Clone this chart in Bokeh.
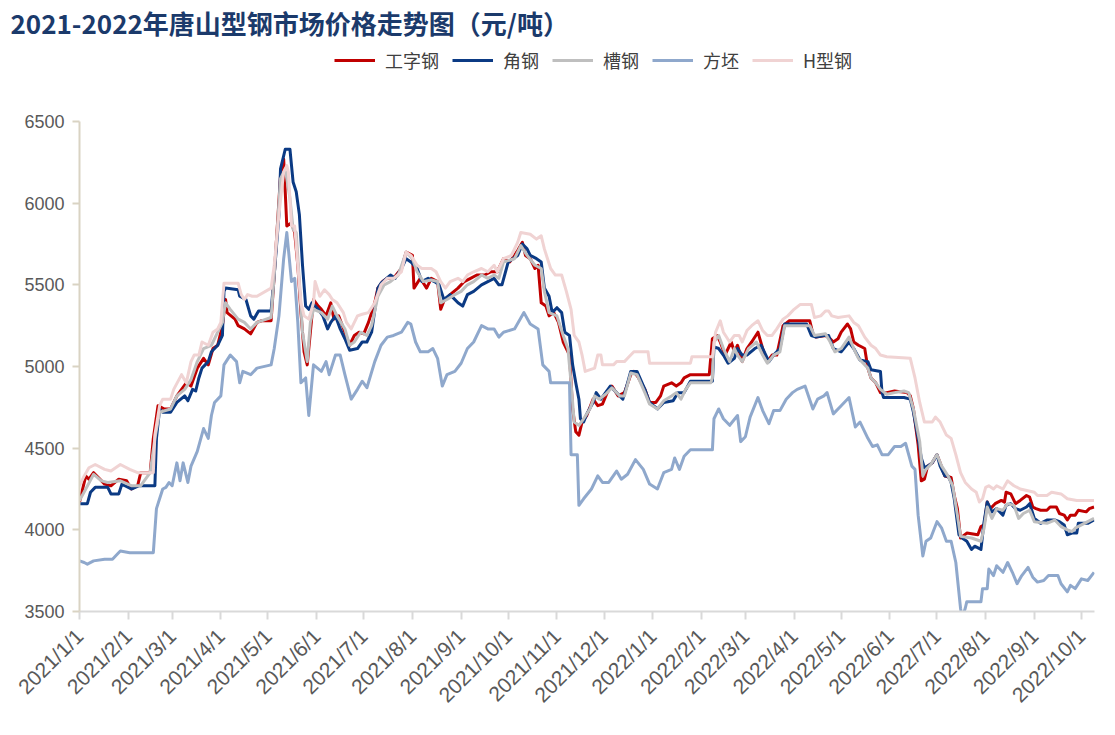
import pandas as pd
from bokeh.plotting import figure
from bokeh.models import (Range1d, FixedTicker, CustomJSTickFormatter, Legend,
                          LegendItem)
from bokeh.embed import file_html
from bokeh.resources import INLINE
import math

# ---------------- data ----------------
title_text = "2021-2022年唐山型钢市场价格走势图（元/吨）"
base_date = "2021-01-01"          # day offsets below count from this date
tick_labels = ["2021/1/1", "2021/2/1", "2021/3/1", "2021/4/1", "2021/5/1", "2021/6/1",
               "2021/7/1", "2021/8/1", "2021/9/1", "2021/10/1", "2021/11/1", "2021/12/1",
               "2022/1/1", "2022/2/1", "2022/3/1", "2022/4/1", "2022/5/1", "2022/6/1",
               "2022/7/1", "2022/8/1", "2022/9/1", "2022/10/1"]
y_ticks = [3500, 4000, 4500, 5000, 5500, 6000, 6500]
last_day = 646.3

names = ["工字钢", "角钢", "槽钢", "方坯", "H型钢"]

gzg_day = [0, 4, 6, 9, 12, 16, 20, 25, 30, 33, 37, 39, 45, 47, 50, 54, 58, 62, 68, 71, 75, 79, 82, 85, 88, 91, 93, 94, 99, 101,
           105, 109, 113, 116, 122, 124, 128, 130, 131, 132, 135, 137, 139, 141, 143, 145, 147, 149, 152, 154, 157, 160, 162, 165, 169,
           172, 175, 178, 181, 184, 188, 190, 193, 196, 200, 205, 208, 212, 213, 217, 221, 224, 228, 230, 232, 236, 241, 245, 249, 253,
           258, 262, 266, 270, 274, 277, 279, 282, 284, 287, 290, 292, 294, 297, 299, 302, 305, 308, 310, 312, 314, 316, 318, 320, 323,
           327, 330, 333, 336, 339, 343, 347, 351, 353, 356, 360, 363, 367, 370, 372, 377, 380, 383, 385, 389, 401, 403, 406, 408, 411,
           415, 417, 419, 422, 425, 428, 432, 435, 438, 441, 444, 448, 452, 465, 467, 469, 475, 478, 480, 483, 485, 489, 491, 493, 496,
           500, 502, 504, 507, 510, 514, 519, 527, 529, 531, 534, 536, 538, 540, 543, 546, 548, 551, 555, 557, 559, 561, 565, 572, 574,
           576, 578, 580, 583, 587, 589, 590, 593, 596, 599, 603, 605, 607, 609, 612, 616, 618, 622, 624, 627, 629, 631, 634, 636, 641,
           643, 646]
gzg_val = [4170, 4330, 4310, 4350, 4320, 4280, 4270, 4310, 4300, 4250, 4270, 4350, 4350, 4560, 4760, 4740, 4740, 4820, 4900, 4880,
           4990, 5050, 5010, 5110, 5130, 5250, 5410, 5330, 5290, 5250, 5230, 5200, 5270, 5280, 5280, 5560, 6170, 6270, 6070, 5860,
           5880, 5820, 5620, 5330, 5090, 5010, 5210, 5410, 5370, 5350, 5310, 5390, 5290, 5310, 5210, 5130, 5190, 5210, 5200, 5270,
           5390, 5480, 5520, 5540, 5540, 5600, 5700, 5680, 5480, 5540, 5480, 5540, 5520, 5350, 5400, 5440, 5480, 5520, 5540, 5560,
           5560, 5580, 5580, 5660, 5640, 5680, 5710, 5760, 5680, 5660, 5600, 5620, 5390, 5370, 5310, 5330, 5270, 5150, 5110, 5070,
           4740, 4600, 4580, 4660, 4700, 4800, 4760, 4770, 4840, 4880, 4820, 4840, 4950, 4970, 4930, 4860, 4780, 4780, 4820, 4880,
           4900, 4880, 4900, 4930, 4950, 4950, 5170, 5190, 5150, 5070, 5150, 5090, 5130, 5030, 5110, 5150, 5210, 5110, 5030, 5070,
           5070, 5250, 5280, 5280, 5200, 5180, 5190, 5170, 5150, 5170, 5210, 5260, 5230, 5150, 5130, 5110, 4990, 4930, 4900, 4840,
           4840, 4850, 4840, 4820, 4740, 4520, 4300, 4310, 4390, 4410, 4460, 4410, 4330, 4320, 4210, 4130, 3950, 3980, 3970, 4020,
           4030, 4170, 4130, 4160, 4180, 4170, 4230, 4220, 4160, 4180, 4210, 4200, 4140, 4130, 4120, 4120, 4140, 4140, 4100, 4090,
           4060, 4090, 4090, 4120, 4110, 4130, 4140]

jg_day = [0, 5, 7, 10, 18, 20, 25, 27, 33, 38, 48, 49, 51, 53, 58, 62, 67, 69, 72, 74, 76, 78, 82, 84, 88, 91, 92, 93, 101, 102,
          106, 109, 111, 114, 122, 124, 127, 128, 131, 134, 136, 138, 140, 142, 144, 146, 148, 152, 155, 158, 160, 163, 166, 169, 172,
          177, 180, 183, 186, 190, 192, 198, 201, 205, 208, 211, 215, 218, 222, 226, 229, 232, 236, 241, 244, 247, 251, 256, 260, 264,
          267, 269, 273, 279, 282, 285, 287, 291, 294, 296, 299, 301, 304, 307, 309, 312, 314, 316, 318, 319, 321, 323, 327, 329, 332,
          335, 338, 342, 346, 349, 351, 355, 360, 363, 368, 372, 378, 381, 385, 389, 403, 404, 407, 410, 413, 417, 419, 422, 425, 430,
          434, 437, 439, 442, 446, 449, 463, 466, 469, 474, 477, 480, 485, 490, 493, 497, 502, 504, 510, 511, 512, 525, 529, 531, 534,
          536, 538, 540, 543, 546, 548, 551, 553, 555, 557, 560, 562, 565, 568, 570, 574, 576, 578, 581, 584, 588, 590, 593, 596, 599,
          603, 605, 608, 612, 616, 621, 624, 627, 629, 632, 635, 636, 642, 646]
jg_val = [4160, 4160, 4230, 4260, 4260, 4220, 4220, 4280, 4250, 4270, 4270, 4560, 4740, 4720, 4720, 4780, 4820, 4790, 4860, 4850,
          4930, 4990, 5030, 5090, 5130, 5190, 5460, 5480, 5470, 5430, 5410, 5310, 5290, 5340, 5340, 5560, 5930, 6210, 6330, 6330,
          6130, 6070, 5930, 5620, 5370, 5350, 5390, 5350, 5310, 5230, 5270, 5310, 5230, 5170, 5100, 5110, 5150, 5150, 5210, 5480,
          5510, 5560, 5540, 5600, 5660, 5640, 5600, 5520, 5540, 5520, 5500, 5410, 5440, 5390, 5370, 5440, 5460, 5500, 5520, 5540,
          5500, 5500, 5640, 5680, 5750, 5720, 5680, 5660, 5640, 5480, 5430, 5330, 5360, 5330, 5210, 5190, 5010, 4900, 4800, 4680,
          4660, 4710, 4780, 4840, 4800, 4840, 4880, 4840, 4800, 4900, 4970, 4970, 4860, 4780, 4740, 4780, 4790, 4840, 4840, 4910,
          4910, 5120, 5110, 5070, 5020, 5050, 5110, 5070, 5070, 5110, 5130, 5070, 5030, 5070, 5110, 5260, 5260, 5190, 5180, 5190,
          5190, 5110, 5090, 5150, 5110, 5040, 5030, 4980, 4970, 4840, 4810, 4810, 4800, 4720, 4560, 4440, 4380, 4390, 4410, 4460,
          4390, 4330, 4330, 4290, 4190, 3970, 3950, 3930, 3880, 3900, 3880, 4050, 4170, 4110, 4130, 4090, 4150, 4160, 4130, 4120,
          4140, 4160, 4070, 4040, 4060, 4060, 4050, 4030, 3970, 3980, 3980, 4040, 4040, 4060]

cg_day = [0, 4, 9, 14, 18, 26, 33, 39, 45, 48, 51, 58, 62, 67, 71, 75, 79, 84, 88, 91, 93, 96, 101, 105, 109, 113, 122, 124, 128,
          131, 134, 136, 138, 140, 142, 145, 147, 149, 154, 158, 161, 164, 169, 172, 175, 179, 183, 186, 190, 194, 198, 203, 208, 212,
          215, 219, 224, 228, 230, 234, 239, 243, 247, 251, 256, 260, 264, 267, 270, 277, 281, 285, 290, 294, 296, 299, 304, 308, 311,
          313, 315, 318, 321, 325, 328, 331, 335, 339, 344, 347, 351, 355, 360, 363, 368, 372, 377, 380, 383, 386, 389, 402, 403, 404,
          407, 410, 414, 417, 419, 422, 426, 431, 435, 438, 442, 446, 449, 465, 468, 475, 478, 481, 485, 490, 493, 496, 502, 504, 507,
          510, 514, 519, 525, 528, 531, 535, 537, 539, 542, 546, 549, 553, 556, 559, 561, 568, 574, 576, 578, 581, 584, 588, 591, 595,
          598, 601, 605, 608, 616, 621, 625, 629, 632, 634, 638, 642, 646]
cg_val = [4180, 4250, 4340, 4300, 4290, 4300, 4270, 4270, 4350, 4560, 4720, 4740, 4820, 4860, 4920, 5030, 5110, 5130, 5210, 5270,
          5390, 5350, 5290, 5270, 5230, 5270, 5300, 5560, 6150, 6210, 6030, 5840, 5820, 5520, 5210, 5030, 5270, 5350, 5330, 5290,
          5370, 5310, 5230, 5130, 5150, 5210, 5190, 5250, 5430, 5500, 5520, 5560, 5700, 5660, 5580, 5520, 5530, 5520, 5390, 5410,
          5440, 5460, 5500, 5520, 5560, 5540, 5560, 5540, 5640, 5660, 5740, 5680, 5620, 5600, 5460, 5330, 5310, 5190, 5110, 4900,
          4660, 4640, 4680, 4740, 4820, 4800, 4830, 4870, 4820, 4820, 4960, 4950, 4840, 4770, 4740, 4790, 4820, 4840, 4800, 4860,
          4900, 4900, 4930, 5150, 5190, 5110, 5030, 5110, 5070, 5030, 5110, 5150, 5070, 5020, 5070, 5090, 5250, 5250, 5190, 5200,
          5150, 5090, 5110, 5180, 5110, 5050, 4990, 4930, 4900, 4860, 4830, 4840, 4850, 4840, 4740, 4540, 4330, 4370, 4400, 4460,
          4390, 4330, 4270, 4090, 3960, 3950, 3930, 4010, 4140, 4070, 4130, 4120, 4160, 4150, 4070, 4100, 4120, 4050, 4040, 4060,
          4020, 4000, 3990, 4010, 4030, 4050, 4070]

fp_day = [0, 3, 5, 9, 16, 21, 24, 26, 32, 47, 49, 51, 53, 55, 57, 59, 62, 64, 66, 69, 71, 75, 79, 82, 84, 86, 90, 92, 96, 100,
          102, 104, 109, 113, 122, 124, 127, 130, 132, 135, 137, 139, 141, 144, 146, 149, 154, 157, 159, 163, 166, 169, 173, 177, 180,
          183, 188, 192, 196, 200, 205, 209, 211, 214, 217, 222, 225, 228, 231, 234, 239, 243, 247, 251, 256, 260, 264, 267, 270, 277,
          283, 287, 292, 295, 299, 300, 312, 313, 317, 318, 321, 326, 330, 333, 337, 342, 345, 349, 354, 359, 363, 368, 372, 377, 379,
          382, 385, 389, 403, 404, 407, 410, 414, 419, 421, 424, 427, 432, 435, 439, 442, 446, 450, 454, 457, 462, 467, 470, 474, 476,
          480, 485, 490, 494, 497, 502, 505, 508, 511, 515, 519, 523, 526, 530, 532, 534, 537, 539, 542, 546, 549, 552, 555, 558, 561,
          562, 564, 565, 574, 575, 578, 579, 582, 584, 588, 591, 594, 597, 600, 604, 607, 610, 614, 617, 623, 625, 629, 631, 634, 638,
          642, 646]
fp_val = [3810, 3800, 3790, 3810, 3820, 3820, 3850, 3870, 3860, 3860, 4130, 4190, 4250, 4260, 4290, 4270, 4410, 4300, 4410, 4290,
          4390, 4480, 4620, 4560, 4700, 4780, 4820, 5010, 5070, 5030, 4900, 4970, 4950, 4990, 5010, 5110, 5310, 5660, 5820, 5520,
          5540, 5270, 4900, 4930, 4700, 5010, 4970, 5030, 4950, 5070, 5070, 4950, 4800, 4860, 4910, 4870, 5030, 5130, 5180, 5190,
          5210, 5270, 5260, 5150, 5090, 5090, 5110, 5050, 4880, 4950, 4970, 5020, 5110, 5150, 5250, 5230, 5230, 5180, 5210, 5230,
          5330, 5260, 5230, 5010, 4970, 4900, 4900, 4460, 4460, 4150, 4190, 4250, 4330, 4290, 4290, 4360, 4310, 4340, 4430, 4370,
          4280, 4250, 4350, 4370, 4440, 4370, 4450, 4490, 4490, 4680, 4740, 4680, 4640, 4700, 4540, 4570, 4690, 4810, 4730, 4650,
          4730, 4730, 4800, 4840, 4860, 4880, 4740, 4800, 4820, 4840, 4710, 4760, 4810, 4630, 4660, 4560, 4510, 4520, 4460, 4460,
          4510, 4510, 4530, 4390, 4370, 4090, 3840, 3930, 3950, 4050, 4010, 3930, 3930, 3800, 3520, 3460, 3520, 3560, 3560, 3640,
          3640, 3760, 3720, 3780, 3740, 3800, 3740, 3670, 3720, 3770, 3710, 3680, 3690, 3720, 3720, 3670, 3620, 3660, 3640, 3700,
          3690, 3740]

hx_day = [0, 3, 6, 10, 16, 20, 26, 32, 37, 47, 48, 51, 53, 58, 60, 65, 68, 71, 73, 76, 78, 82, 85, 88, 90, 92, 101, 103, 105, 107,
          110, 113, 122, 124, 127, 130, 132, 133, 135, 137, 139, 141, 143, 146, 149, 150, 153, 156, 159, 161, 164, 168, 170, 173, 177,
          180, 184, 188, 192, 196, 200, 205, 208, 211, 215, 218, 224, 227, 230, 233, 236, 241, 244, 247, 251, 256, 260, 264, 266, 270,
          275, 279, 281, 287, 291, 294, 296, 298, 300, 303, 307, 310, 313, 315, 318, 320, 322, 328, 330, 332, 333, 340, 342, 347, 349,
          353, 362, 363, 389, 390, 403, 405, 408, 410, 414, 417, 420, 422, 425, 428, 432, 435, 438, 441, 444, 448, 451, 455, 459, 466,
          468, 472, 475, 477, 479, 483, 490, 493, 496, 500, 504, 507, 510, 514, 529, 532, 535, 538, 543, 545, 548, 552, 555, 558, 561,
          564, 568, 571, 573, 575, 577, 579, 582, 584, 588, 591, 595, 599, 608, 610, 616, 619, 625, 629, 635, 646]
hx_val = [4270, 4330, 4380, 4400, 4370, 4360, 4400, 4370, 4350, 4350, 4580, 4760, 4800, 4800, 4860, 4950, 4900, 5030, 5070, 5070,
          5150, 5130, 5210, 5230, 5270, 5510, 5510, 5440, 5410, 5440, 5430, 5430, 5480, 5620, 5930, 6190, 6230, 6190, 5860, 5860,
          5620, 5390, 5310, 5290, 5390, 5520, 5430, 5470, 5440, 5410, 5390, 5330, 5270, 5230, 5310, 5320, 5330, 5390, 5500, 5540,
          5540, 5580, 5700, 5680, 5620, 5600, 5600, 5580, 5520, 5480, 5520, 5540, 5520, 5560, 5580, 5600, 5580, 5620, 5580, 5660,
          5680, 5760, 5820, 5810, 5780, 5800, 5720, 5660, 5600, 5560, 5560, 5460, 5350, 5190, 5150, 5070, 4970, 4990, 5070, 5070,
          5010, 5010, 5030, 5030, 5050, 5090, 5090, 5020, 5020, 5060, 5060, 5210, 5280, 5210, 5150, 5190, 5190, 5150, 5220, 5250,
          5280, 5220, 5190, 5190, 5230, 5290, 5310, 5350, 5380, 5380, 5300, 5310, 5340, 5340, 5310, 5300, 5310, 5270, 5250, 5180,
          5130, 5110, 5070, 5060, 5050, 4930, 4780, 4660, 4660, 4690, 4660, 4580, 4560, 4460, 4350, 4290, 4250, 4230, 4170, 4190,
          4260, 4270, 4250, 4270, 4250, 4300, 4270, 4250, 4230, 4210, 4210, 4230, 4220, 4190, 4180, 4180]

colors = ["#C00000", "#0B3A84", "#BFBFBF", "#8FA8CC", "#F0D3D3"]
days_list = [gzg_day, jg_day, cg_day, fp_day, hx_day]
vals_list = [gzg_val, jg_val, cg_val, fp_val, hx_val]

# ---------------- layout numbers ----------------
W, H = 1099, 719
frame_left, frame_right = 79, 1094
frame_top, frame_bottom = 40, 611          # frame also holds the legend band
value_bottom_px = 611                       # where 3500 sits
value_top_px = 121                          # where 6500 sits
px_per_unit = (value_bottom_px - value_top_px) / (y_ticks[-1] - y_ticks[0])
y_end = y_ticks[0] + (frame_bottom - frame_top) / px_per_unit

base = pd.Timestamp(base_date)
p = figure(width=W, height=H, output_backend="svg", toolbar_location=None,
           x_axis_type="datetime",
           x_range=Range1d(base, base + pd.Timedelta(days=last_day)),
           y_range=Range1d(y_ticks[0], y_end),
           min_border_left=frame_left, min_border_right=W - frame_right,
           min_border_top=frame_top, min_border_bottom=H - frame_bottom)
p.outline_line_color = None
p.xgrid.visible = False
p.ygrid.visible = False
p.background_fill_color = "white"
p.border_fill_color = "white"

# title
p.title.text = title_text
p.title.align = "left"
p.title.offset = -69
p.title.standoff = 0
p.title.text_font = "Noto Sans CJK SC"
p.title.text_font_size = "26px"
p.title.text_font_style = "bold"
p.title.text_color = "#1B3A6B"

renderers = []
for days, vals, col in zip(days_list, vals_list, colors):
    xs = base + pd.to_timedelta(days, unit="D")
    r = p.line(xs, vals, line_color=col, line_width=3, line_join="round")
    renderers.append(r)

# axes
tick_ms = [pd.Timestamp(s).timestamp() * 1000 for s in tick_labels]
p.xaxis.ticker = FixedTicker(ticks=tick_ms)
p.xaxis.formatter = CustomJSTickFormatter(code="""
    const d = new Date(tick);
    return d.getUTCFullYear() + "/" + (d.getUTCMonth() + 1) + "/" + d.getUTCDate();
""")
p.xaxis.major_label_orientation = math.pi / 4
p.xaxis.axis_line_color = "#D9D9D9"
p.xaxis.axis_line_width = 2
p.xaxis.major_tick_line_color = "#D9D9D9"
p.xaxis.major_tick_line_width = 2
p.xaxis.major_tick_out = 8
p.xaxis.major_tick_in = 0
p.xaxis.minor_tick_line_color = None
p.xaxis.major_label_text_font = "Liberation Sans"
p.xaxis.major_label_text_font_size = "21px"
p.xaxis.major_label_text_color = "#595959"
p.xaxis.major_label_standoff = 13

p.yaxis.ticker = FixedTicker(ticks=y_ticks)
p.yaxis.bounds = (y_ticks[0], y_ticks[-1])
p.yaxis.axis_line_color = "#D9D3C3"
p.yaxis.axis_line_width = 2
p.yaxis.major_tick_line_color = "#D9D3C3"
p.yaxis.major_tick_line_width = 2
p.yaxis.major_tick_out = 7
p.yaxis.major_tick_in = 0
p.yaxis.minor_tick_line_color = None
p.yaxis.major_label_text_font = "Liberation Sans"
p.yaxis.major_label_text_font_size = "18px"
p.yaxis.major_label_text_color = "#595959"
p.yaxis.major_label_standoff = 8

# legend (inside the frame band above the data)
items = [LegendItem(label=n, renderers=[r]) for n, r in zip(names, renderers)]
legend = Legend(items=items, orientation="horizontal", location=(255, 538),
                glyph_width=41, glyph_height=16, label_standoff=10, spacing=13,
                padding=0, margin=0, border_line_color=None, background_fill_alpha=0,
                label_text_font="Noto Sans CJK SC", label_text_font_size="18px",
                label_text_color="#404040")
p.add_layout(legend)

open("out.html", "w").write(file_html(p, INLINE))
